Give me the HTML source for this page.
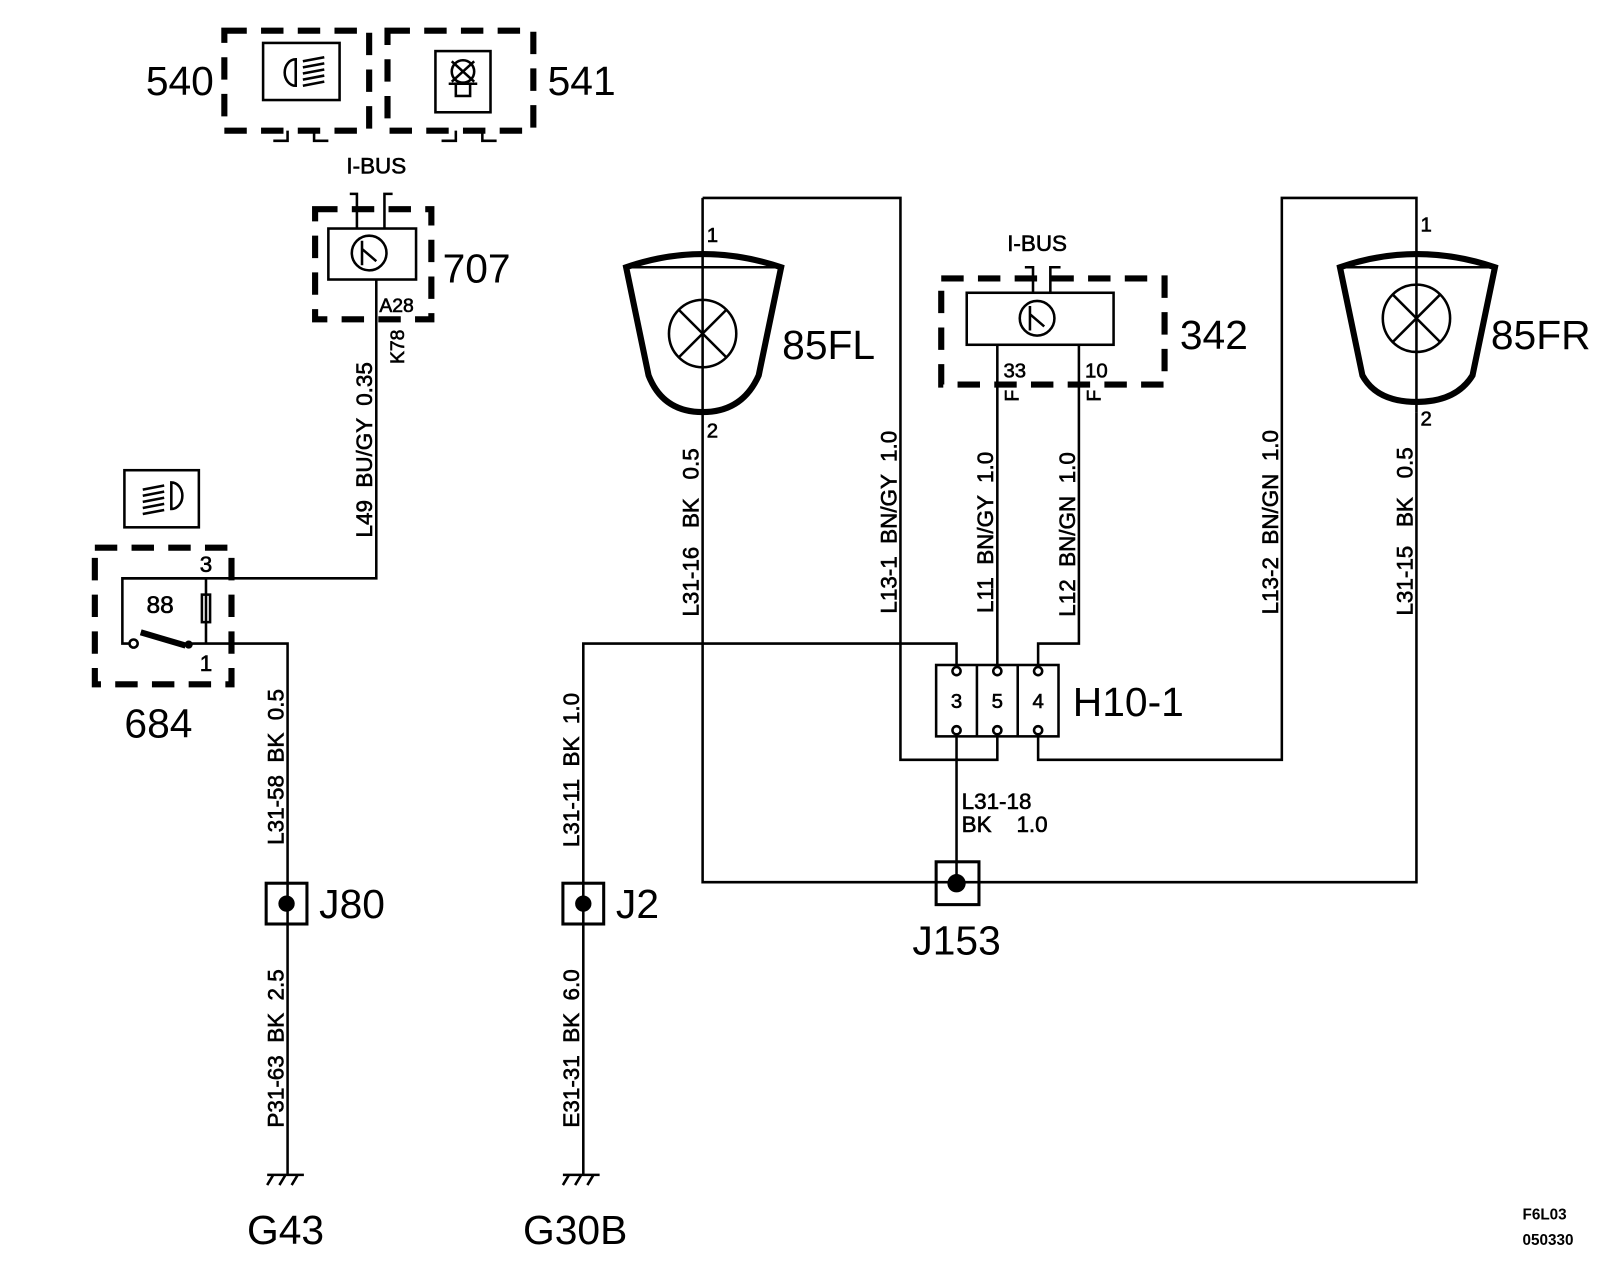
<!DOCTYPE html>
<html><head><meta charset="utf-8"><style>html,body{margin:0;padding:0;background:#fff}svg{display:block}text{white-space:pre}</style></head>
<body>
<svg width="1600" height="1280" viewBox="0 0 1569 1255" xmlns="http://www.w3.org/2000/svg" font-family="Liberation Sans, Arial, sans-serif" fill="none" stroke="#000">
<g stroke-width="6" stroke-dasharray="22,14">
<rect x="220" y="30" width="142" height="98"/>
<rect x="380" y="30" width="143" height="98"/>
<rect x="309" y="205" width="114" height="108"/>
<rect x="923" y="273" width="219" height="104"/>
<rect x="93" y="537" width="134" height="134"/>
</g>
<g stroke-width="2.5">
<rect x="258" y="42" width="75" height="56"/>
<rect x="427" y="50" width="54" height="60"/>
<rect x="122" y="461" width="73" height="56"/>
<rect x="322" y="224" width="86" height="50"/>
<rect x="948" y="287" width="144" height="51"/>
<path d="M290,58 a10,12 0 1,0 0,26 z"/>
<path d="M297,60 L318,56 M297,66 L318,62 M297,72 L318,68 M297,78 L318,74 M297,84 L318,80"/>
<path d="M168,473 a10,12 0 1,1 0,26 z"/>
<path d="M161,476 L140,480 M161,482 L140,486 M161,488 L140,492 M161,494 L140,498 M161,500 L140,504"/>
<circle cx="454" cy="70" r="11"/><path d="M443,60 L465,80 M465,60 L443,80"/><rect x="447" y="82" width="14" height="12"/><path d="M440,82 h28"/>
<circle cx="362" cy="248" r="17"/><path d="M355,236 v24 M355,244 l14,12"/>
<circle cx="1017" cy="312" r="17"/><path d="M1010,300 v24 M1010,308 l14,12"/>
<path d="M268,138 h14 v-10 M322,138 h-14 v-10 M433,138 h14 v-10 M487,138 h-14 v-10"/>
<path d="M343,190 h7 v34 M385,190 h-8 v34"/>
<path d="M1005,262 h8 v25 M1040,262 h-10 v25"/>
<path d="M369,274 V567 H120 V631 H126"/>
<path d="M202,567 V631 M120,567 H202"/>
<rect x="198" y="583" width="8" height="27"/>
<path d="M185,631 H282 V1152"/>
<path d="M572,1152 V631 H938 V652"/>
<path d="M978,338 V652 M1058,338 V631 H1018 V652"/>
<path d="M689,194 V404 M689,194 H883 V745 H978 V722"/>
<path d="M689,404 V865 H1389 V404"/>
<path d="M1018,722 V745 H1257 V194 H1389 V404"/>
<path d="M938,722 V866"/>
<rect x="918" y="652" width="120" height="70"/>
<path d="M958,652 v70 M998,652 v70"/>
<circle cx="938" cy="658" r="4"/><circle cx="978" cy="658" r="4"/><circle cx="1018" cy="658" r="4"/>
<circle cx="938" cy="716" r="4"/><circle cx="978" cy="716" r="4"/><circle cx="1018" cy="716" r="4"/>
<path d="M614,262 H766 M1314,262 H1466"/>
<circle cx="689" cy="327" r="33"/><path d="M666,304 L712,350 M712,304 L666,350"/>
<circle cx="1389" cy="312" r="33"/><path d="M1366,289 L1412,335 M1412,289 L1366,335"/>
<circle cx="131" cy="631" r="4"/>
<path d="M262,1152 h36 M268,1152 l-6,10 M280,1152 l-6,10 M292,1152 l-6,10"/>
<path d="M552,1152 h36 M558,1152 l-6,10 M570,1152 l-6,10 M582,1152 l-6,10"/>
</g>
<g stroke-width="6">
<path d="M614,262 Q689,236 766,262 L744,368 Q728,404 689,404 Q650,404 636,368 Z"/>
<path d="M1314,262 Q1389,236 1466,262 L1444,368 Q1428,394 1389,394 Q1350,394 1336,368 Z"/>
<path d="M138,620 L182,633"/>
</g>
<g stroke-width="3">
<rect x="261" y="866" width="40" height="40"/>
<rect x="552" y="866" width="40" height="40"/>
<rect x="918" y="845" width="42" height="42"/>
</g>
<g fill="#000" stroke="none">
<circle cx="281" cy="886" r="8"/><circle cx="572" cy="886" r="8"/><circle cx="938" cy="866" r="9"/><circle cx="185" cy="632" r="4"/>
</g>
<g fill="#000" stroke="none" font-size="40">
<text x="143" y="93">540</text>
<text x="537" y="93">541</text>
<text x="434" y="277">707</text>
<text x="767" y="352">85FL</text>
<text x="1157" y="342">342</text>
<text x="1462" y="342">85FR</text>
<text x="1052" y="702">H10-1</text>
<text x="122" y="723">684</text>
<text x="313" y="900">J80</text>
<text x="604" y="900">J2</text>
<text x="938" y="936" text-anchor="middle">J153</text>
<text x="280" y="1220" text-anchor="middle">G43</text>
<text x="564" y="1220" text-anchor="middle">G30B</text>
</g>
<g fill="#000" stroke="#000" stroke-width="0.6" font-size="22">
<text x="369" y="170" text-anchor="middle">I-BUS</text>
<text x="1017" y="246" text-anchor="middle">I-BUS</text>
<text x="372" y="306" font-size="19">A28</text>
<text x="202" y="561" text-anchor="middle">3</text>
<text x="202" y="658" text-anchor="middle">1</text>
<text x="157" y="601" text-anchor="middle" font-size="24">88</text>
<text x="938" y="694" text-anchor="middle" font-size="20">3</text>
<text x="978" y="694" text-anchor="middle" font-size="20">5</text>
<text x="1018" y="694" text-anchor="middle" font-size="20">4</text>
<text x="984" y="370" font-size="20">33</text>
<text x="1064" y="370" font-size="20">10</text>
<text x="693" y="237" font-size="20">1</text>
<text x="693" y="429" font-size="20">2</text>
<text x="1393" y="227" font-size="20">1</text>
<text x="1393" y="417" font-size="20">2</text>
<text x="943" y="793">L31-18</text>
<text x="943" y="816">BK    1.0</text>
<text transform="translate(278,752) rotate(-90)" text-anchor="middle">L31-58  BK  0.5</text>
<text transform="translate(278,1028) rotate(-90)" text-anchor="middle">P31-63  BK  2.5</text>
<text transform="translate(365,441) rotate(-90)" text-anchor="middle">L49  BU/GY  0.35</text>
<text transform="translate(396,340) rotate(-90)" text-anchor="middle" font-size="19">K78</text>
<text transform="translate(568,755) rotate(-90)" text-anchor="middle">L31-11  BK  1.0</text>
<text transform="translate(568,1028) rotate(-90)" text-anchor="middle">E31-31  BK  6.0</text>
<text transform="translate(685,522) rotate(-90)" text-anchor="middle">L31-16   BK   0.5</text>
<text transform="translate(879,512) rotate(-90)" text-anchor="middle">L13-1  BN/GY  1.0</text>
<text transform="translate(974,522) rotate(-90)" text-anchor="middle">L11  BN/GY  1.0</text>
<text transform="translate(1054,524) rotate(-90)" text-anchor="middle">L12  BN/GN  1.0</text>
<text transform="translate(1253,512) rotate(-90)" text-anchor="middle">L13-2  BN/GN  1.0</text>
<text transform="translate(1385,521) rotate(-90)" text-anchor="middle">L31-15   BK   0.5</text>
<text transform="translate(999,388) rotate(-90)" text-anchor="middle" font-size="19">F</text>
<text transform="translate(1079,388) rotate(-90)" text-anchor="middle" font-size="19">F</text>
</g>
<g fill="#000" stroke="none">
<text x="1493" y="1196" font-size="15" font-weight="bold">F6L03</text>
<text x="1493" y="1221" font-size="15" font-weight="bold">050330</text>
</g>
</svg>
</body></html>
